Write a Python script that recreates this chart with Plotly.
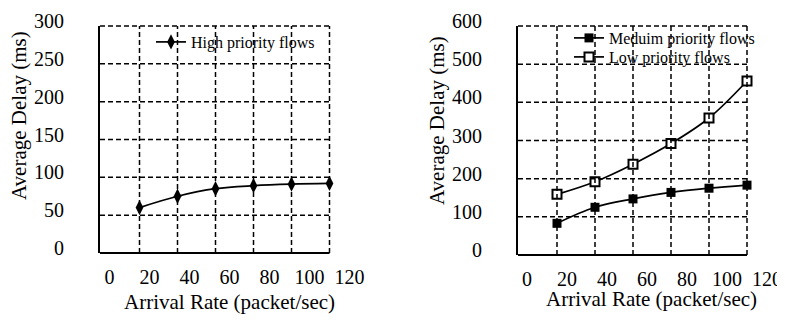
import plotly.graph_objects as go

# ---- data ----
arrival_rate = [15, 34, 53, 72, 91, 110]
high_delay = [60, 75, 85, 89, 91, 92]
medium_delay = [83, 125, 147, 164, 175, 183]
low_delay = [159, 192, 238, 292, 359, 456]

x_ticks = [0, 20, 40, 60, 80, 100, 120]
y_ticks_left = [0, 50, 100, 150, 200, 250, 300]
y_ticks_right = [0, 100, 200, 300, 400, 500, 600]

FONT = "Liberation Serif, Times New Roman, serif"
OFF = 8  # default page body margin
W, H = 785 - OFF, 322 - OFF


def fx(p):
    return (p - OFF) / W


def fy(p):
    return (H - (p - OFF)) / H


fig = go.Figure()

fig.add_trace(go.Scatter(
    x=arrival_rate, y=high_delay, name="High priority flows",
    mode="lines+markers", line=dict(color="black", width=1.7, shape="spline"),
    marker=dict(symbol="diamond-tall", size=11, color="black"),
    xaxis="x", yaxis="y", legend="legend"))

fig.add_trace(go.Scatter(
    x=arrival_rate, y=medium_delay, name="Meduim priority flows",
    mode="lines+markers", line=dict(color="black", width=1.7, shape="spline"),
    marker=dict(symbol="square", size=9, color="black"),
    xaxis="x2", yaxis="y2", legend="legend2"))

fig.add_trace(go.Scatter(
    x=arrival_rate, y=low_delay, name="Low priority flows",
    mode="lines+markers", line=dict(color="black", width=1.7, shape="spline"),
    marker=dict(symbol="square", size=9, color="white",
                line=dict(color="black", width=2)),
    xaxis="x2", yaxis="y2", legend="legend3"))

shapes = []
dash = "5px,3px"


def frame(xr, yr, yticks, xmin):
    ymax = yticks[-1]
    for xv in arrival_rate:
        shapes.append(dict(type="line", xref=xr, yref=yr, x0=xv, x1=xv, y0=0, y1=ymax,
                           line=dict(color="black", width=1.5, dash=dash)))
    for yv in yticks[1:-1]:
        shapes.append(dict(type="line", xref=xr, yref=yr, x0=xmin, x1=arrival_rate[-1],
                           y0=yv, y1=yv, line=dict(color="black", width=1.5, dash=dash)))
    shapes.append(dict(type="line", xref=xr, yref=yr + " domain", x0=xmin, x1=arrival_rate[-1],
                       y0=1, y1=1, line=dict(color="black", width=1.5, dash=dash)))
    shapes.append(dict(type="line", xref=xr, yref=yr + " domain", x0=xmin, x1=arrival_rate[-1],
                       y0=0, y1=0, line=dict(color="black", width=2)))


LX = [-4.75, 125]
RX = [-4.5, 125]
frame("x", "y", y_ticks_left, LX[0])
frame("x2", "y2", y_ticks_right, RX[0])

tickfont = dict(family=FONT, size=20, color="black")
xcommon = dict(tickmode="array", tickvals=x_ticks, ticktext=[str(v) for v in x_ticks],
               showgrid=False, zeroline=False, showline=False,
               ticks="outside", ticklen=6, tickcolor="rgba(0,0,0,0)",
               ticklabeloverflow="allow",
               tickfont=tickfont, automargin=False, fixedrange=True)
ycommon = dict(tickmode="array", showgrid=False, zeroline=False, showline=True,
               linecolor="black", linewidth=2,
               ticks="outside", ticklen=30, tickcolor="rgba(0,0,0,0)",
               ticklabeloverflow="allow",
               tickfont=tickfont, ticklabelshift=-5, automargin=False, fixedrange=True)

legfont = dict(family=FONT, size=16, color="black")
fig.update_layout(
    width=W, height=H,
    margin=dict(l=0, r=0, t=0, b=0, autoexpand=False),
    paper_bgcolor="white", plot_bgcolor="white",
    font=dict(family=FONT, color="black"),
    xaxis=dict(range=LX, domain=[fx(100), fx(359.5)], anchor="y", **xcommon),
    yaxis=dict(range=[0, 300], domain=[fy(253), fy(26)], anchor="x",
               tickvals=y_ticks_left, ticktext=[str(v) for v in y_ticks_left], **ycommon),
    xaxis2=dict(range=RX, domain=[fx(518), fx(777)], anchor="y2", **xcommon),
    yaxis2=dict(range=[0, 600], domain=[fy(255), fy(26)], anchor="x2",
                tickvals=y_ticks_right, ticktext=[str(v) for v in y_ticks_right], **ycommon),
    shapes=shapes,
    legend=dict(x=fx(151), y=fy(25), xanchor="left", yanchor="top",
                bgcolor="rgba(0,0,0,0)", borderwidth=0, font=legfont),
    legend2=dict(x=fx(569), y=fy(21), xanchor="left", yanchor="top",
                 bgcolor="rgba(0,0,0,0)", borderwidth=0, font=legfont),
    legend3=dict(x=fx(569), y=fy(40), xanchor="left", yanchor="top",
                 bgcolor="rgba(0,0,0,0)", borderwidth=0, font=legfont),
    showlegend=True,
)

tfont = dict(family=FONT, size=21, color="black")
annotations = [
    dict(text="Arrival Rate (packet/sec)", x=fx(229), y=fy(302), xref="paper", yref="paper",
         showarrow=False, font=tfont, xanchor="center", yanchor="middle"),
    dict(text="Arrival Rate (packet/sec)", x=fx(651), y=fy(299), xref="paper", yref="paper",
         showarrow=False, font=tfont, xanchor="center", yanchor="middle"),
    dict(text="Average Delay (ms)", x=fx(19), y=fy(116), xref="paper", yref="paper", textangle=-90,
         showarrow=False, font=tfont, xanchor="center", yanchor="middle"),
    dict(text="Average Delay (ms)", x=fx(437), y=fy(121), xref="paper", yref="paper", textangle=-90,
         showarrow=False, font=tfont, xanchor="center", yanchor="middle"),
]
fig.update_layout(annotations=annotations)

fig.write_html("out.html")
